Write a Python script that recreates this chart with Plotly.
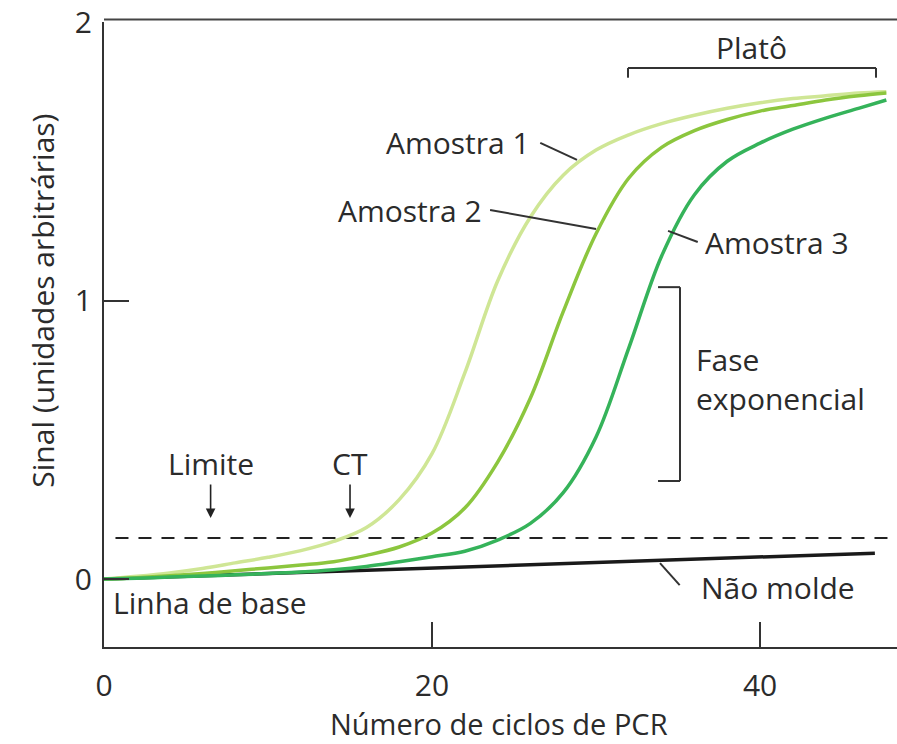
import plotly.graph_objects as go

# ---- data ----
cycles = [0, 2, 4, 6, 8, 10, 12, 14, 16, 18, 20, 22, 24, 26, 28, 30, 32, 34, 36, 38, 40, 42, 44, 46, 47.7]
s1_signal = [0, 0.01, 0.022, 0.038, 0.058, 0.078, 0.102, 0.135, 0.185, 0.285, 0.45, 0.74, 1.07, 1.30, 1.45,
             1.54, 1.595, 1.635, 1.665, 1.69, 1.71, 1.725, 1.735, 1.745, 1.75]
s2_signal = [0, 0.005, 0.012, 0.02, 0.03, 0.04, 0.05, 0.062, 0.085, 0.115, 0.165, 0.255, 0.42, 0.65, 0.96,
             1.24, 1.44, 1.55, 1.61, 1.65, 1.68, 1.70, 1.72, 1.735, 1.745]
s3_signal = [0, 0.003, 0.007, 0.011, 0.015, 0.02, 0.025, 0.033, 0.045, 0.062, 0.08, 0.10, 0.14, 0.20, 0.31,
             0.51, 0.83, 1.16, 1.38, 1.50, 1.565, 1.615, 1.655, 1.69, 1.72]

ntc_cycles = [0, 47.0]
ntc_signal = [0, 0.093]

threshold_cycles = [0.7, 48.35]
threshold_signal = [0.147, 0.147]

x_ticks = [0, 20, 40]
y_ticks = [0, 1, 2]

TXT = "#2b2b2b"
FONT = "Open Sans"
FS = 30

fig = go.Figure()
fig.add_trace(go.Scatter(x=threshold_cycles, y=threshold_signal, mode="lines",
                         line=dict(color="#222", width=2, dash="13px,10px"), hoverinfo="skip"))
fig.add_trace(go.Scatter(x=ntc_cycles, y=ntc_signal, mode="lines",
                         line=dict(color="#1a1a1a", width=3.5)))
fig.add_trace(go.Scatter(x=cycles, y=s1_signal, mode="lines", line_shape="spline",
                         line=dict(color="#cfe695", width=3.5)))
fig.add_trace(go.Scatter(x=cycles, y=s2_signal, mode="lines", line_shape="spline",
                         line=dict(color="#8cc63e", width=3.5)))
fig.add_trace(go.Scatter(x=cycles, y=s3_signal, mode="lines", line_shape="spline",
                         line=dict(color="#35b35a", width=3.5)))

def seg(x0, y0, x1, y1, w=2):
    fig.add_shape(type="line", x0=x0, y0=y0, x1=x1, y1=y1, xref="x", yref="y",
                  line=dict(color="#333", width=w))

# pointer lines
seg(26.6, 1.566, 28.84, 1.505)
seg(23.54, 1.325, 30.0, 1.257)
seg(34.39, 1.25, 36.2, 1.21)
seg(33.9, 0.057, 35.1, -0.022)
# Plato bracket
seg(31.95, 1.835, 47.07, 1.835)
seg(31.95, 1.835, 31.95, 1.80)
seg(47.07, 1.835, 47.07, 1.80)
# exponential bracket
seg(33.78, 1.048, 35.12, 1.048)
seg(35.12, 1.048, 35.12, 0.352)
seg(33.78, 0.352, 35.12, 0.352)
# top border
fig.add_shape(type="line", xref="paper", yref="paper", x0=0, x1=1, y0=1.004, y1=1.004,
              line=dict(color="#444", width=2))

def txt(x, y, t, xanchor="center", xref="x", yref="y", angle=0, align="center", size=FS):
    fig.add_annotation(x=x, y=y, text=t, showarrow=False, xref=xref, yref=yref,
                       xanchor=xanchor, yanchor="middle", textangle=angle, align=align,
                       font=dict(family=FONT, size=size, color=TXT))

txt(26.1, 1.566, "Amostra 1", xanchor="right")
txt(23.17, 1.325, "Amostra 2", xanchor="right")
txt(36.5, 1.21, "Amostra 3", xanchor="left")
txt(36.3, -0.029, "Não molde", xanchor="left")
txt(0.45, -0.086, "Linha de base", xanchor="left")
txt(6.5, 0.416, "Limite")
txt(15.0, 0.416, "CT")
txt(39.5, 1.907, "Platô")
txt(36.0, 0.718, "Fase<br>exponencial", xanchor="left", align="left")
txt(24.1, -0.122, "Número de ciclos de PCR", yref="paper", size=29)
txt(-0.078, 1.0, "Sinal (unidades arbitrárias)", xref="paper", angle=-90)

for xa in (6.5, 15.0):
    fig.add_annotation(x=xa, y=0.219, ax=xa, ay=0.345, xref="x", yref="y", axref="x", ayref="y",
                       text="", showarrow=True, arrowhead=2, arrowsize=1.2, arrowwidth=1.6,
                       arrowcolor="#222")

fig.update_layout(
    width=897, height=744,
    margin=dict(l=104, r=0, t=22, b=97, autoexpand=False),
    paper_bgcolor="white", plot_bgcolor="white",
    showlegend=False,
    font=dict(family=FONT, size=FS, color=TXT),
)
fig.update_xaxes(range=[0, 48.35], tickvals=x_ticks, ticks="inside", ticklen=25, tickwidth=2,
                 tickcolor="#333", showline=True, linecolor="#333", linewidth=2,
                 showgrid=False, zeroline=False, ticklabelstandoff=11, automargin=False,
                 ticklabeloverflow="allow",
                 tickfont=dict(family=FONT, size=FS, color=TXT))
fig.update_yaxes(range=[-0.244, 2.0], tickvals=y_ticks, ticks="inside", ticklen=25, tickwidth=2,
                 tickcolor="#333", showline=True, linecolor="#333", linewidth=2,
                 showgrid=False, zeroline=False, ticklabelstandoff=4, automargin=False,
                 ticklabeloverflow="allow",
                 tickfont=dict(family=FONT, size=FS, color=TXT))

# remove the default page margin so the figure sits at the window origin
fig.write_html("out.html", config={"displayModeBar": False},
               post_script="document.body.style.margin='0';document.body.style.overflow='hidden';")
